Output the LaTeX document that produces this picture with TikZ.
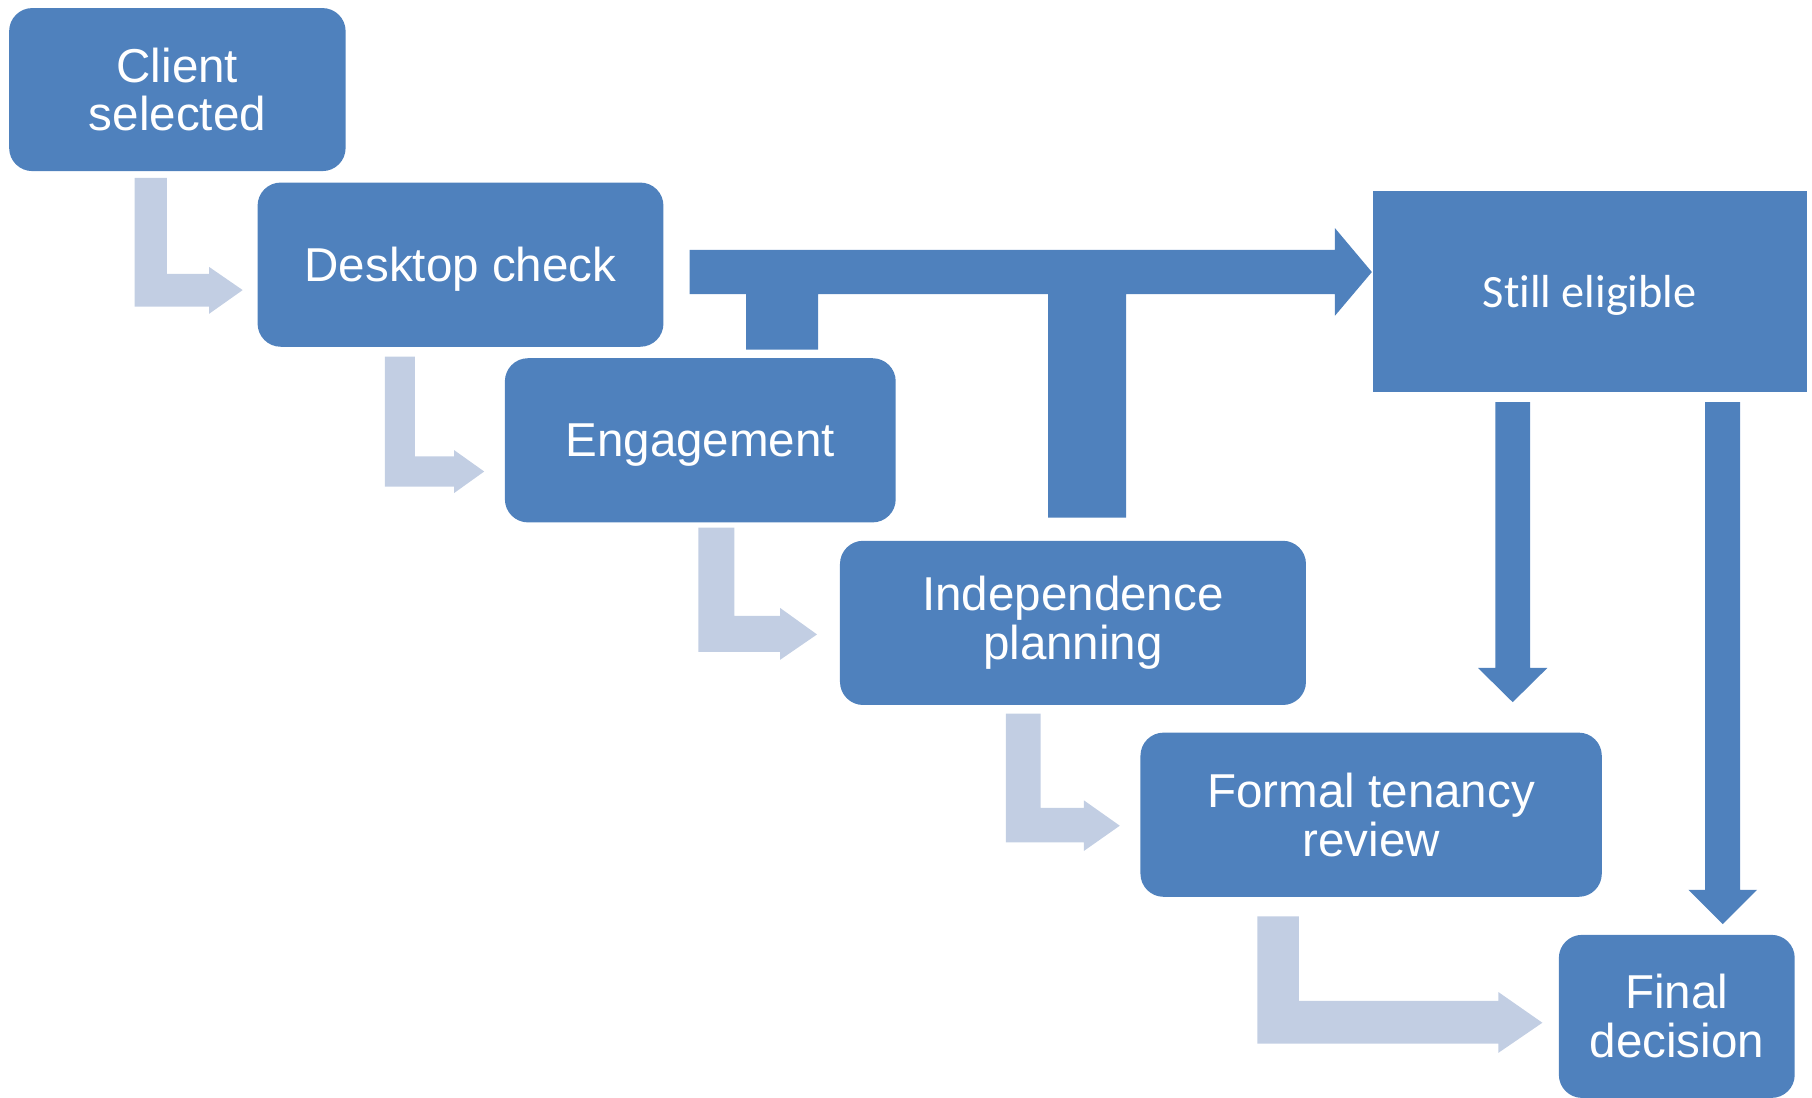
\documentclass[tikz,border=0pt]{standalone}
\usepackage{fontspec}
\setmainfont{Liberation Sans}
\newfontfamily\calibri[Ligatures=NoCommon]{Carlito}
\usepackage{tikz}
\usepackage{xcolor}
\definecolor{boxblue}{RGB}{79,129,189}
\definecolor{paleblue}{RGB}{194,206,227}

\begin{document}
\begin{tikzpicture}[x=0.01cm,y=-0.01cm,
  box/.style={fill=boxblue,text=white,rounded corners=0.2cm,align=center,
    inner sep=0pt,font=\fontsize{11.7}{12}\selectfont},
  pale/.style={fill=paleblue},
  dark/.style={fill=boxblue}]
	\useasboundingbox (0,0) rectangle (1568,950);

	\node (A) [box,minimum width=2.91cm,minimum height=1.41cm] at (153.5,77.5) {Client\\selected};
	\node (B) [box,text depth=0pt,minimum width=3.51cm,minimum height=1.42cm] at (398.5,229) {Desktop check};
	\node (C) [box,text depth=0pt,minimum width=3.38cm,minimum height=1.42cm] at (606,381) {Engagement};
	\node (D) [box,minimum width=4.03cm,minimum height=1.42cm] at (928.5,539) {Independence\\planning};
	\node (E) [box,minimum width=3.99cm,minimum height=1.42cm] at (1186.5,705) {Formal tenancy\\review};
	\node (F) [box,minimum width=2.04cm,minimum height=1.41cm] at (1451,879.5) {Final\\decision};
	\node (G) [box,rounded corners=0pt,text depth=0pt,minimum width=3.755cm,minimum height=1.74cm,
	  font=\calibri\fontsize{11.4}{12}\selectfont] at (1375.7,252) {Still eligible};

  % bent arrows between the steps
  \fill[pale] (116.5,154) -- (144.5,154) -- (144.5,237) -- (181,237) -- (181,231) -- (210,251)
    -- (181,271.5) -- (181,265.4) -- (116.5,265.4) -- cycle;
  \fill[pale] (333,308.5) -- (359,308.5) -- (359,395) -- (393,395) -- (393,389.5) -- (419,408)
    -- (393,426.6) -- (393,421) -- (333,421) -- cycle;
  \fill[pale] (604.3,456.6) -- (635.5,456.6) -- (635.5,533) -- (675,533) -- (675,526) -- (707,549)
    -- (675,571) -- (675,564) -- (604.3,564) -- cycle;
  \fill[pale] (870.5,617.5) -- (900.6,617.5) -- (900.6,699) -- (938,699) -- (938,692.6) -- (969,714.5)
    -- (938,736.3) -- (938,729) -- (870.5,729) -- cycle;
  \fill[pale] (1088,793) -- (1124,793) -- (1124,866) -- (1296.7,866) -- (1296.7,858.5) -- (1334.7,885)
    -- (1296.7,911) -- (1296.7,903) -- (1088,903) -- cycle;

  % joint arrow into G
  \fill[dark] (596.7,216.3) -- (1155.2,216.3) -- (1155.2,197.4) -- (G.west |- 0,235.4)
    -- (1155.2,273.2) -- (1155.2,254.4) -- (974.5,254.4) -- (974.5,448) -- (907,448)
    -- (907,254.4) -- (708,254.4) -- (708,302.6) -- (645.6,302.6) -- (645.6,254.4)
    -- (596.7,254.4) -- cycle;

  % arrows down from G
  \fill[dark] (1294,348) -- (1324,348) -- (1324,578) -- (1339,578) -- (1309,607.6)
    -- (1279,578) -- (1294,578) -- cycle;
  \fill[dark] (1475.6,348) -- (1505.8,348) -- (1505.8,770) -- (1520.5,770) -- (1490.7,799.7)
    -- (1461,770) -- (1475.6,770) -- cycle;

\end{tikzpicture}
\end{document}
